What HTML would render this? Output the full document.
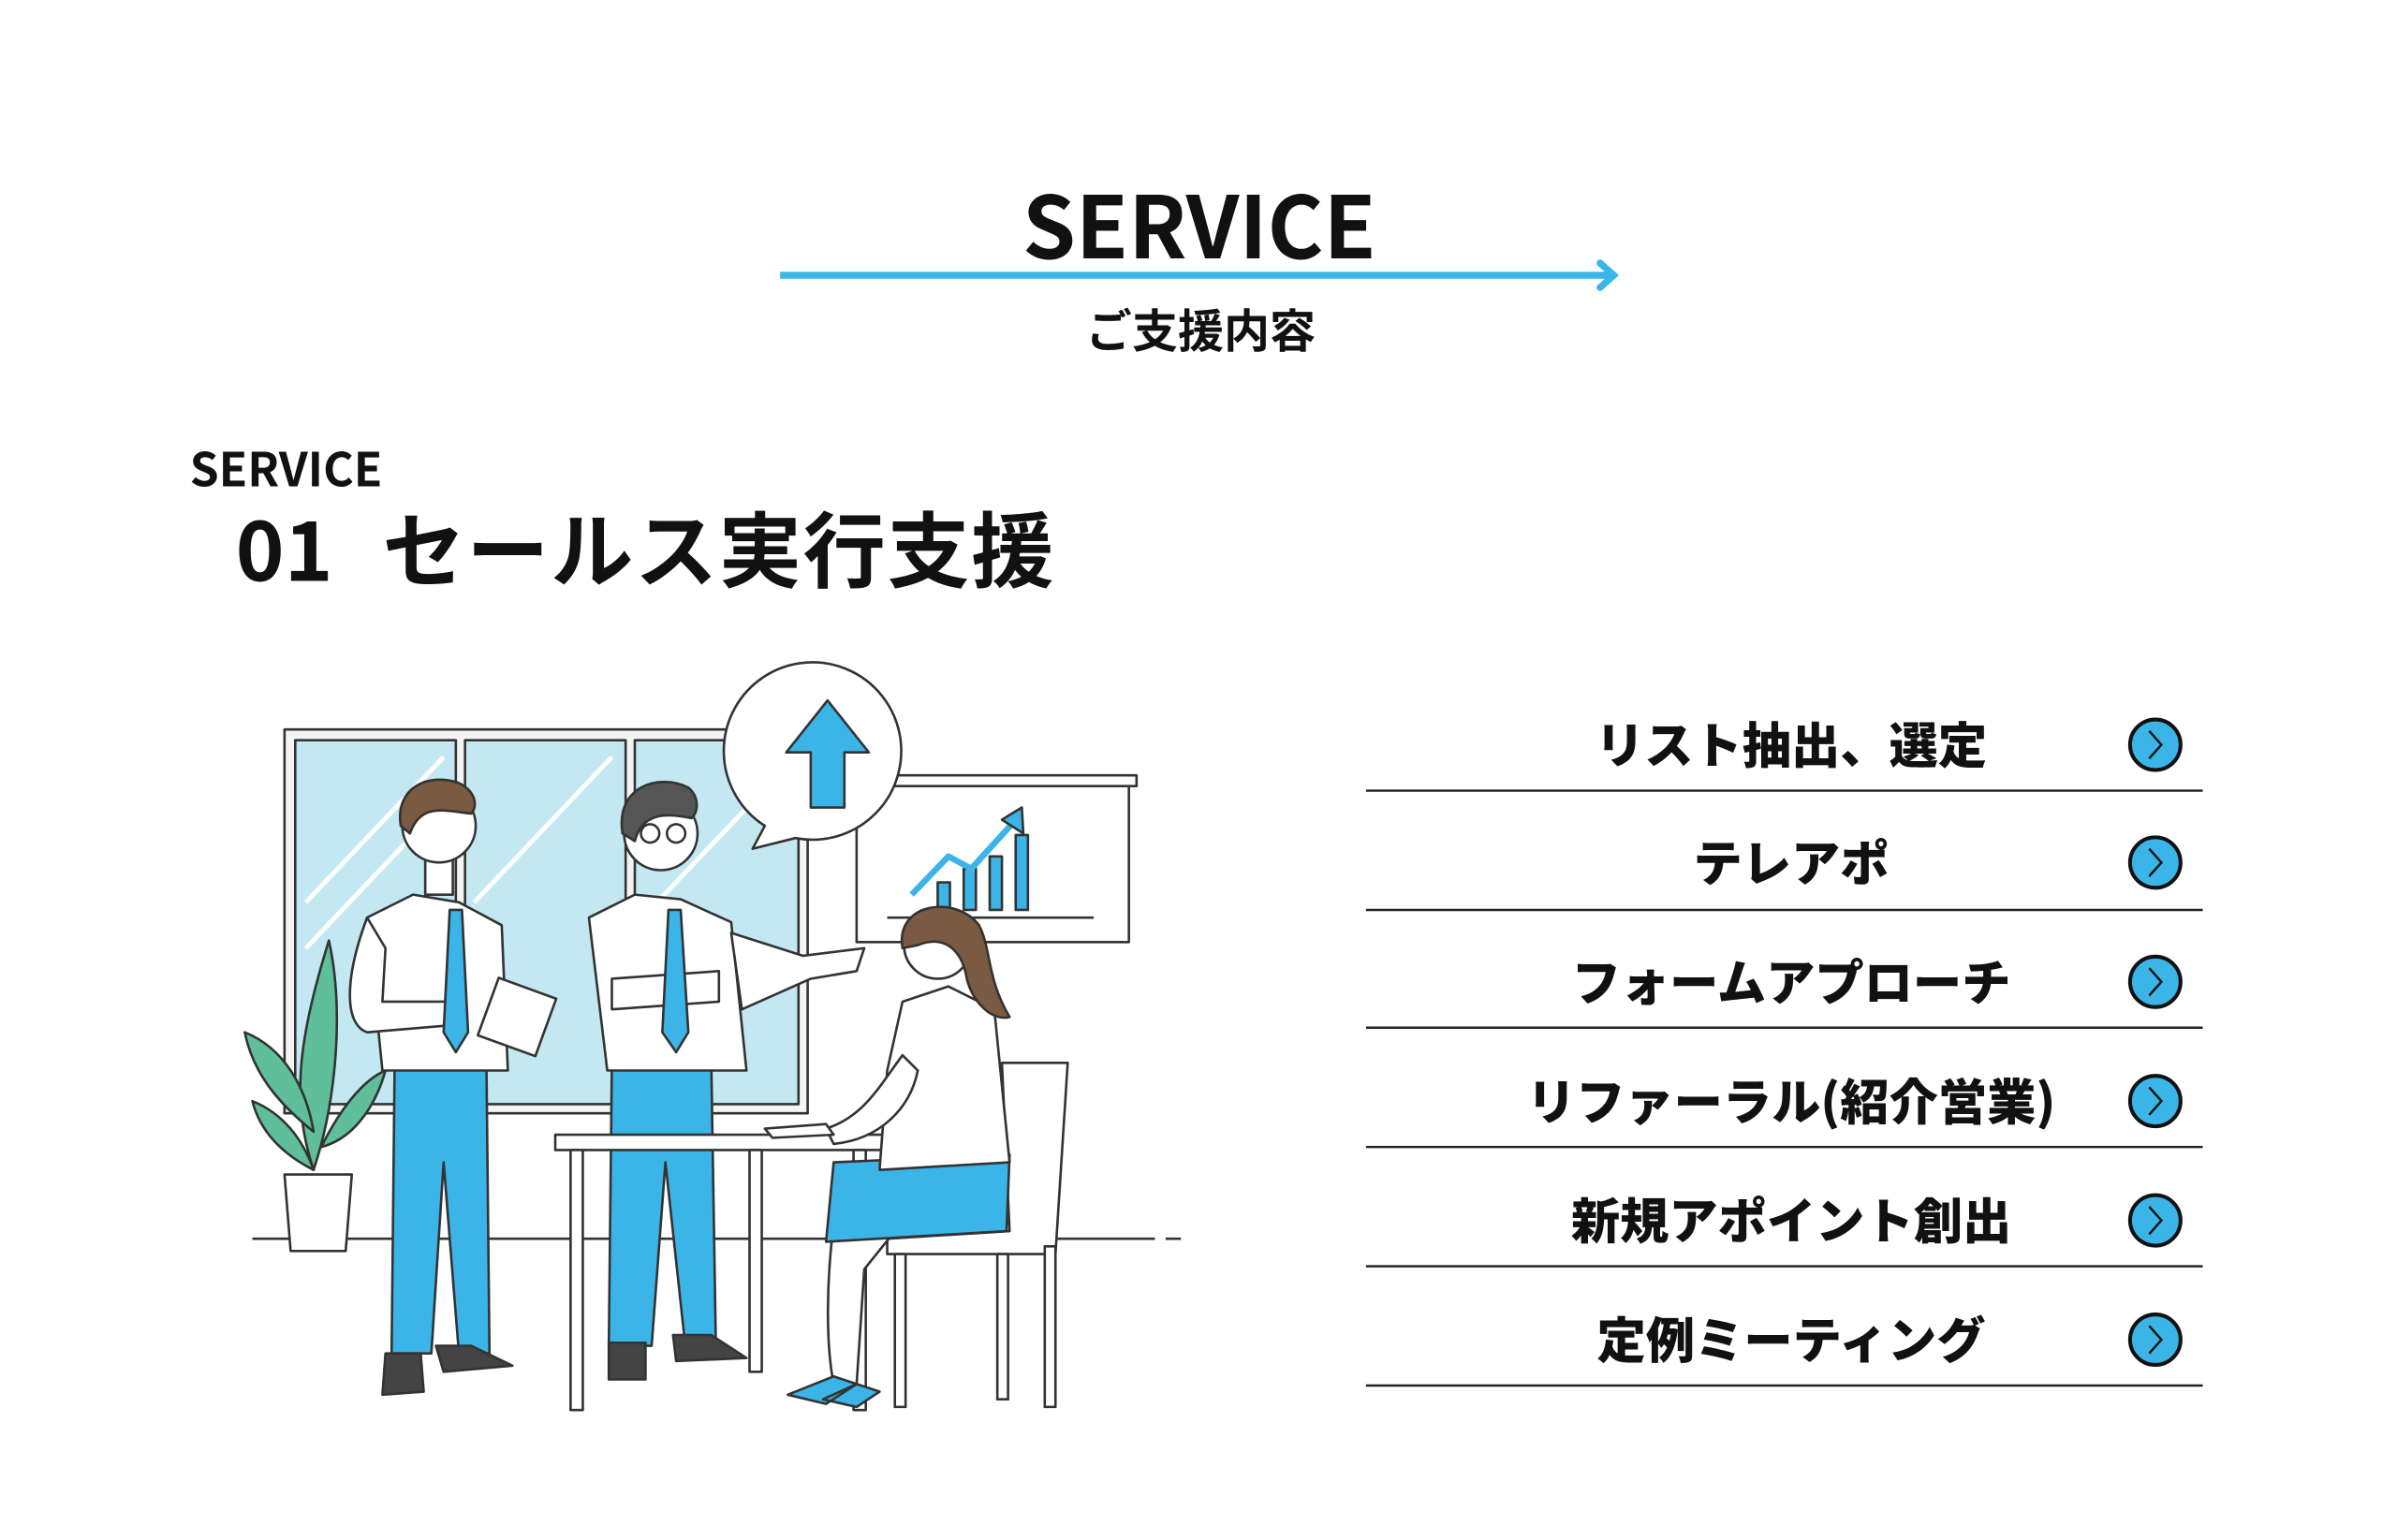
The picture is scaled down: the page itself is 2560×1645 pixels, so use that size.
<!DOCTYPE html>
<html><head><meta charset="utf-8"><style>
html,body{margin:0;padding:0;background:#fff;}
svg{display:block;}
text{font-family:"Liberation Sans","Noto Sans CJK JP",sans-serif;font-weight:700;fill:#111;}
.jp{font-family:"Noto Sans CJK JP","Liberation Sans",sans-serif;}
.li{font-weight:900;}
</style></head><body>
<svg width="2560" height="1645" viewBox="0 0 1567 1007" preserveAspectRatio="none" xmlns="http://www.w3.org/2000/svg">
<rect width="1567" height="1007" fill="#fff"/>
<text x="784" y="169" text-anchor="middle" font-size="56" class="jp">SERVICE</text>
<line x1="510" y1="180" x2="1053" y2="180" stroke="#3bb5e8" stroke-width="4.5"/>
<polyline points="1046,172 1055,180 1046,188" fill="none" stroke="#3bb5e8" stroke-width="4.5" stroke-linecap="round"/>
<text x="785" y="227" text-anchor="middle" font-size="30" class="jp">ご支援内容</text>
<text x="124" y="318" font-size="30.5" class="jp">SERVICE</text>
<text x="154" y="380" font-size="54" class="jp">01</text>
<text x="250" y="380" font-size="54" class="jp" letter-spacing="1">セールス実行支援</text>
<g font-size="32">
<text x="1171" y="499" text-anchor="middle" class="jp li">リスト抽出、選定</text>
<text x="1171" y="576" text-anchor="middle" class="jp li">テレアポ</text>
<text x="1171" y="654" text-anchor="middle" class="jp li">フォームアプローチ</text>
<text x="1171" y="732" text-anchor="middle" class="jp li">リファーラル(紹介営業)</text>
<text x="1171" y="810" text-anchor="middle" class="jp li">新規アポイント創出</text>
<text x="1171" y="888" text-anchor="middle" class="jp li">定例ミーティング</text>
</g>
<g stroke="#222" stroke-width="1.5">
<line x1="893" y1="517" x2="1440" y2="517"/><line x1="893" y1="595" x2="1440" y2="595"/>
<line x1="893" y1="672" x2="1440" y2="672"/><line x1="893" y1="750" x2="1440" y2="750"/>
<line x1="893" y1="828" x2="1440" y2="828"/><line x1="893" y1="906" x2="1440" y2="906"/>
</g>
<g fill="#3bb5e8" stroke="#111" stroke-width="2.5">
<circle cx="1409" cy="487" r="16.5"/><circle cx="1409" cy="564" r="16.5"/><circle cx="1409" cy="642" r="16.5"/>
<circle cx="1409" cy="720" r="16.5"/><circle cx="1409" cy="798" r="16.5"/><circle cx="1409" cy="876" r="16.5"/>
</g>
<g fill="none" stroke="#111" stroke-width="1.5">
<polyline points="1405,478 1413,487 1405,496"/><polyline points="1405,555 1413,564 1405,573"/>
<polyline points="1405,633 1413,642 1405,651"/><polyline points="1405,711 1413,720 1405,729"/>
<polyline points="1405,789 1413,798 1405,807"/><polyline points="1405,867 1413,876 1405,885"/>
</g>
<g stroke="#333" stroke-width="1.6" stroke-linejoin="round">
<rect x="186" y="477" width="342" height="251" fill="#f4f4f4"/>
<rect x="193" y="484" width="105" height="238" fill="#c3e8f1"/>
<rect x="304" y="484" width="105" height="238" fill="#c3e8f1"/>
<rect x="415" y="484" width="107" height="238" fill="#c3e8f1"/>
<g stroke="#fff" stroke-width="3"><line x1="200" y1="590" x2="290" y2="495"/><line x1="200" y1="620" x2="290" y2="525"/><line x1="310" y1="590" x2="400" y2="495"/><line x1="420" y1="600" x2="515" y2="500"/></g>
<line x1="165" y1="810" x2="755" y2="810"/><line x1="762" y1="810" x2="772" y2="810"/>
<rect x="560" y="512" width="178" height="104" fill="#fff"/>
<rect x="555" y="507" width="188" height="7" fill="#fff"/>
<line x1="580" y1="600" x2="715" y2="600"/>
<g fill="#3bb5e8"><rect x="613" y="577" width="8" height="18"/><rect x="630" y="568" width="8" height="27"/><rect x="647" y="560" width="8" height="35"/><rect x="664" y="546" width="8" height="49"/></g>
<polyline points="596,585 620,560 635,568 665,535" fill="none" stroke="#3bb5e8" stroke-width="4"/>
<polygon points="668,528 669,545 655,536" fill="#3bb5e8"/>
<path d="M500,540 A58,58 0 1 1 520,548 L492,555 Z" fill="#fff"/>
<polygon points="541,458 568,492 552,492 552,528 530,528 530,492 514,492" fill="#3bb5e8"/>
<g fill="#5fbf9a"><path d="M205,765 C190,720 195,680 215,615 C225,660 220,720 205,765Z"/><path d="M205,740 C180,720 165,700 160,675 C185,685 200,710 205,740Z"/><path d="M210,750 C225,720 240,705 252,700 C245,725 230,745 210,750Z"/><path d="M205,765 C185,755 170,740 165,720 C185,728 198,745 205,765Z"/></g>
<path d="M186,768 L230,768 L226,818 L190,818 Z" fill="#fff"/>
<path d="M258,695 L318,695 L320,885 L300,885 L290,760 L282,885 L256,885 Z" fill="#3bb5e8"/>
<path d="M252,885 L275,885 L277,910 L250,912 Z M285,880 L308,880 L335,893 L290,897 Z" fill="#444"/>
<path d="M240,600 L270,585 L300,590 L328,605 L332,700 L250,700 Z" fill="#fff"/>
<path d="M240,600 C225,640 225,670 240,675 L300,670 L300,655 L250,655 L252,620 Z" fill="#fff"/>
<polygon points="294,595 302,595 306,675 298,688 290,675" fill="#3bb5e8"/>
<rect x="318" y="645" width="40" height="40" transform="rotate(20 338 665)" fill="#fff"/>
<rect x="278" y="560" width="18" height="25" fill="#fff"/>
<circle cx="287" cy="540" r="24" fill="#fff"/>
<path d="M262,540 C258,515 280,505 300,512 C312,518 312,528 308,532 C290,530 275,525 268,545 Z" fill="#7a5a40"/>
<path d="M400,695 L465,695 L468,880 L448,880 L435,760 L426,880 L398,880 Z" fill="#3bb5e8"/>
<path d="M398,878 L422,878 L422,902 L398,902 Z M440,873 L465,873 L488,888 L442,890 Z" fill="#444"/>
<path d="M385,600 L415,585 L445,588 L478,603 L488,700 L397,700 Z" fill="#fff"/>
<path d="M478,610 L525,625 L565,620 L560,635 L530,640 L485,660 Z" fill="#fff"/>
<path d="M400,640 L470,635 L470,655 L400,660 Z" fill="#fff"/>
<polygon points="437,595 445,595 450,675 442,688 433,675" fill="#3bb5e8"/>
<circle cx="432" cy="545" r="24" fill="#fff"/>
<path d="M407,545 C402,515 430,505 450,515 C458,522 456,532 452,535 C438,532 420,530 415,550 Z" fill="#555"/>
<g fill="none"><circle cx="425" cy="545" r="6"/><circle cx="442" cy="545" r="6"/></g>
<rect x="363" y="742" width="217" height="10" fill="#fff"/>
<g fill="#fff"><rect x="373" y="752" width="8" height="170"/><rect x="490" y="752" width="8" height="145"/><rect x="558" y="752" width="8" height="170"/></g>
<path d="M655,695 L698,695 L690,820 L580,820 L580,810 L660,805 Z" fill="#fff"/>
<g fill="#fff"><rect x="585" y="820" width="7" height="100"/><rect x="652" y="820" width="7" height="95"/><rect x="683" y="815" width="7" height="105"/></g>
<path d="M545,800 C540,840 540,880 545,905 L560,905 L565,830 L585,805 Z" fill="#fff"/>
<path d="M515,912 L545,900 L560,905 L540,918 Z M538,915 L560,905 L575,910 L560,920 Z" fill="#3bb5e8"/>
<path d="M545,760 L660,755 L658,805 L540,812 Z" fill="#3bb5e8"/>
<path d="M590,655 L620,645 L650,660 L660,760 L575,765 L580,700 Z" fill="#fff"/>
<path d="M590,690 C575,710 565,730 540,738 L545,748 C575,745 595,725 600,700 Z" fill="#fff"/>
<circle cx="613" cy="618" r="22" fill="#fff"/>
<path d="M590,620 C585,590 625,585 640,605 C648,620 645,640 660,665 C648,668 636,655 632,640 C630,625 620,610 600,618 Z" fill="#7a5a40"/>
<path d="M500,738 L540,735 L545,742 L505,744 Z" fill="#fff"/>
</g>
</svg>
</body></html>
